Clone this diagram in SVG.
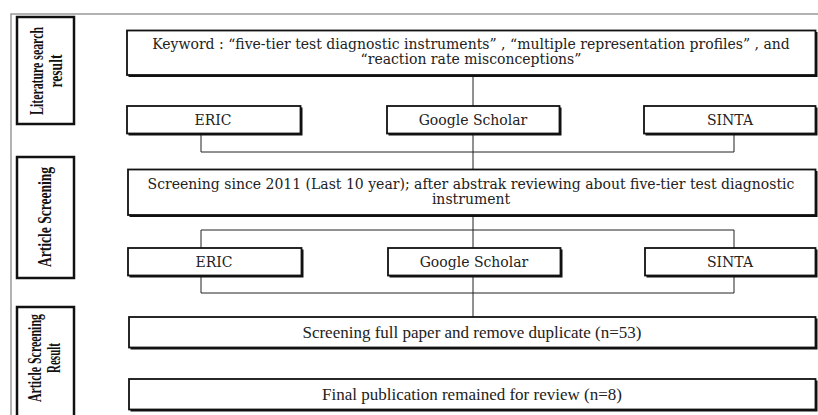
<svg xmlns="http://www.w3.org/2000/svg" width="818" height="415" viewBox="0 0 818 415">
<style>
.bg{fill:#fff}
.frame{stroke:#999;stroke-width:1.5;fill:none}
.box{fill:#fff;stroke:#111;stroke-width:1.8}
.shadow{fill:#111}
.lab{fill:#fff;stroke:#111;stroke-width:2.5}
.conn{stroke:#222;stroke-width:1;fill:none}
.t{font-family:"DejaVu Serif","Liberation Serif",serif;font-size:14px;fill:#222;text-anchor:middle}
.tn{font-family:"Liberation Serif","Times New Roman",serif;font-size:17px;fill:#222;text-anchor:middle}
.tl{font-family:"Liberation Serif","Times New Roman",serif;font-weight:bold;font-size:19px;fill:#111;text-anchor:middle}
</style>
<rect class="bg" x="0" y="0" width="818" height="415"/>
<path class="frame" d="M11 415 V14 H818"/>

<g id="label-literature">
<rect class="lab" x="17" y="17" width="57" height="107"/>
<text class="tl" transform="translate(43,71) rotate(-90)" textLength="88" lengthAdjust="spacingAndGlyphs">Literature search</text>
<text class="tl" transform="translate(62,71) rotate(-90)" textLength="33" lengthAdjust="spacingAndGlyphs">result</text>
</g>
<g id="label-screening">
<rect class="lab" x="17" y="157" width="57" height="121"/>
<text class="tl" transform="translate(51,217) rotate(-90)" textLength="100" lengthAdjust="spacingAndGlyphs">Article Screening</text>
</g>
<g id="label-result">
<rect class="lab" x="17" y="307" width="57" height="125"/>
<text class="tl" transform="translate(41,358) rotate(-90)" textLength="88" lengthAdjust="spacingAndGlyphs">Article Screening</text>
<text class="tl" transform="translate(60,358) rotate(-90)" textLength="30" lengthAdjust="spacingAndGlyphs">Result</text>
</g>

<g id="connectors">
<path class="conn" d="M473 75 V106"/>
<path class="conn" d="M201 134 V152 H734 V134"/>
<path class="conn" d="M473 134 V169"/>
<path class="conn" d="M473 215 V248"/>
<path class="conn" d="M201 248 V230 H734 V248"/>
<path class="conn" d="M201 277 V293 H734 V277"/>
<path class="conn" d="M473 277 V317"/>
</g>

<g id="keyword">
<rect class="shadow" x="128.5" y="32" width="689" height="45"/>
<rect class="box" x="127" y="30.5" width="688.5" height="44.5"/>
<text class="t" x="471" y="49">Keyword : “five-tier test diagnostic instruments” , “multiple representation profiles” , and</text>
<text class="t" x="471" y="64">“reaction rate misconceptions”</text>
</g>
<g id="eric1">
<rect class="shadow" x="128.5" y="107.5" width="174" height="28"/>
<rect class="box" x="127" y="106" width="173.5" height="27.5"/>
<text class="t" x="213" y="125">ERIC</text>
</g>
<g id="scholar1">
<rect class="shadow" x="388.5" y="107.5" width="173" height="28"/>
<rect class="box" x="387" y="106" width="172.5" height="27.5"/>
<text class="t" x="473" y="125">Google Scholar</text>
</g>
<g id="sinta1">
<rect class="shadow" x="645.5" y="107.5" width="172" height="28"/>
<rect class="box" x="644" y="106" width="171.5" height="27.5"/>
<text class="t" x="730" y="125">SINTA</text>
</g>
<g id="screening">
<rect class="shadow" x="129.5" y="171" width="688" height="46"/>
<rect class="box" x="128" y="169.5" width="687.5" height="45.5"/>
<text class="t" x="471" y="189">Screening since 2011 (Last 10 year); after abstrak reviewing about five-tier test diagnostic</text>
<text class="t" x="471" y="204">instrument</text>
</g>
<g id="eric2">
<rect class="shadow" x="129.5" y="249.5" width="174" height="28"/>
<rect class="box" x="128" y="248" width="173.5" height="27.5"/>
<text class="t" x="214" y="267">ERIC</text>
</g>
<g id="scholar2">
<rect class="shadow" x="389.5" y="249.5" width="173" height="28"/>
<rect class="box" x="388" y="248" width="172.5" height="27.5"/>
<text class="t" x="474" y="267">Google Scholar</text>
</g>
<g id="sinta2">
<rect class="shadow" x="646.5" y="249.5" width="171" height="28"/>
<rect class="box" x="645" y="248" width="170.5" height="27.5"/>
<text class="t" x="730" y="267">SINTA</text>
</g>
<g id="fullpaper">
<rect class="shadow" x="130.5" y="318.5" width="687" height="31"/>
<rect class="box" x="129" y="317" width="686.5" height="30.5"/>
<text class="tn" x="472" y="338">Screening full paper and remove duplicate (n=53)</text>
</g>
<g id="final">
<rect class="shadow" x="130.5" y="380.5" width="687" height="31"/>
<rect class="box" x="129" y="379" width="686.5" height="30.5"/>
<text class="tn" x="472" y="400">Final publication remained for review (n=8)</text>
</g>
</svg>
